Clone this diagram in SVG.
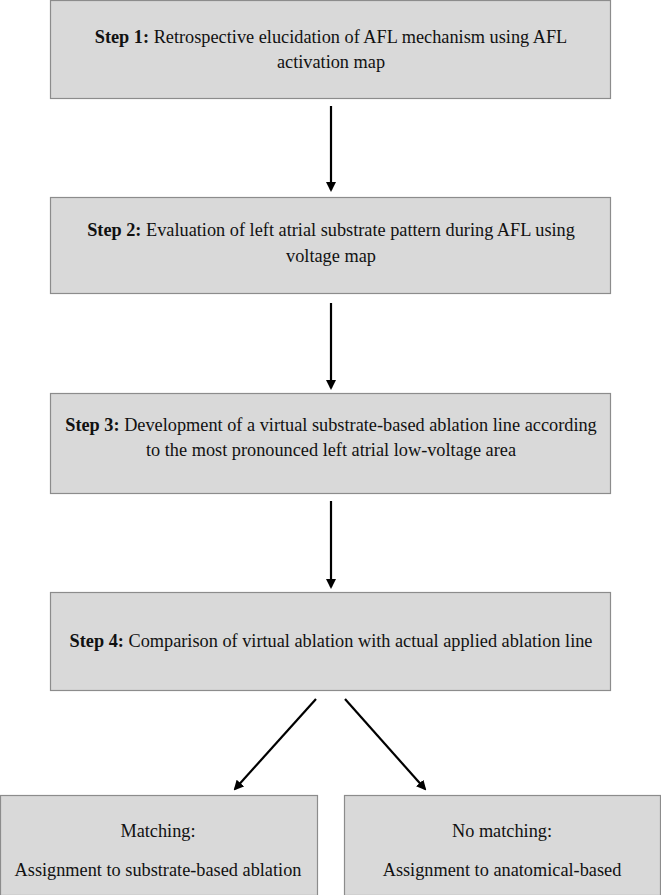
<svg xmlns="http://www.w3.org/2000/svg" width="661" height="895" viewBox="0 0 661 895">
<style>
.box{fill:#d9d9d9;stroke:#8c8c8c;stroke-width:1.2}
.t{font-family:"Liberation Serif","Times New Roman",serif;font-size:18.3px;fill:#111;text-anchor:middle}
.b{font-weight:bold}
.c{stroke:#000;stroke-width:2.2;fill:none;marker-end:url(#ah)}
</style>
<defs>
<marker id="ah" markerWidth="10" markerHeight="10" refX="8" refY="5" orient="auto" markerUnits="userSpaceOnUse">
<path d="M0,0 L10,5 L0,10 z" fill="#000"/>
</marker>
</defs>
<rect width="661" height="895" fill="#fff"/>
<g id="step1">
<rect class="box" x="50.5" y="0.5" width="560" height="98"/>
<text class="t" x="331" y="43"><tspan class="b">Step 1:</tspan> Retrospective elucidation of AFL mechanism using AFL</text>
<text class="t" x="331" y="68">activation map</text>
</g>
<g id="step2">
<rect class="box" x="50.5" y="197.5" width="560" height="96"/>
<text class="t" x="331" y="236"><tspan class="b">Step 2:</tspan> Evaluation of left atrial substrate pattern during AFL using</text>
<text class="t" x="331" y="262">voltage map</text>
</g>
<g id="step3">
<rect class="box" x="50.5" y="393.5" width="560" height="100"/>
<text class="t" x="331" y="431"><tspan class="b">Step 3:</tspan> Development of a virtual substrate-based ablation line according</text>
<text class="t" x="331" y="456">to the most pronounced left atrial low-voltage area</text>
</g>
<g id="step4">
<rect class="box" x="50.5" y="592.5" width="560" height="98"/>
<text class="t" x="331" y="647"><tspan class="b">Step 4:</tspan> Comparison of virtual ablation with actual applied ablation line</text>
</g>
<g id="matching">
<rect class="box" x="0.5" y="795.5" width="317" height="100"/>
<text class="t" x="158" y="837">Matching:</text>
<text class="t" x="158" y="876">Assignment to substrate-based ablation</text>
</g>
<g id="nomatching">
<rect class="box" x="344.5" y="795.5" width="316" height="100"/>
<text class="t" x="502" y="837">No matching:</text>
<text class="t" x="502" y="876">Assignment to anatomical-based</text>
</g>
<g id="connectors">
<line class="c" x1="331" y1="106" x2="331" y2="190"/>
<line class="c" x1="331" y1="303" x2="331" y2="388"/>
<line class="c" x1="331" y1="501" x2="331" y2="587"/>
<line class="c" x1="316" y1="699" x2="235" y2="789"/>
<line class="c" x1="345" y1="699" x2="425" y2="789"/>
</g>
</svg>
